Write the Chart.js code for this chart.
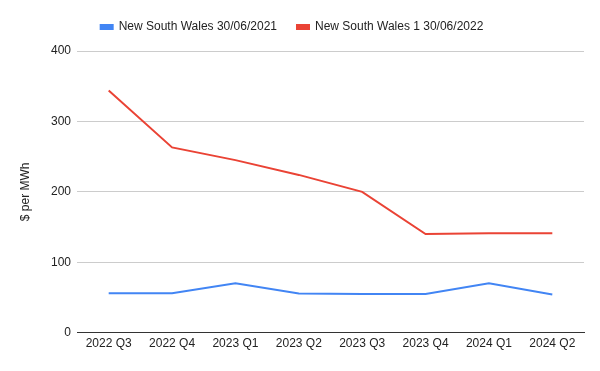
<!DOCTYPE html>
<html>
<head>
<meta charset="utf-8">
<script src="https://cdn.jsdelivr.net/npm/chart.js@4"></script>
<style>
  html, body { margin: 0; padding: 0; background: #fff; }
  #wrap { width: 600px; height: 371px; }
</style>
</head>
<body>
<div id="wrap"><canvas id="chart"></canvas></div>
<script>
// quarters along the x axis
var quarters = ['2022 Q3', '2022 Q4', '2023 Q1', '2023 Q2', '2023 Q3', '2023 Q4', '2024 Q1', '2024 Q2'];

// $ per MWh
var nsw2021 = [56, 56, 70, 55.5, 55, 55, 70, 54];
var nsw2022 = [344, 263, 245, 224, 200, 140, 141, 141];

var yTicks = [0, 100, 200, 300, 400];

Chart.defaults.font.family = 'Arial, "Liberation Sans", sans-serif';
Chart.defaults.font.size = 12;
Chart.defaults.color = '#222';

var ctx = document.getElementById('chart').getContext('2d');

var data = {
  labels: quarters,
  datasets: [{
    label: 'New South Wales 30/06/2021',
    data: nsw2021,
    borderColor: '#4285F4',
    backgroundColor: '#4285F4',
    borderWidth: 2,
    pointRadius: 0,
    tension: 0
  }, {
    label: 'New South Wales 1 30/06/2022',
    data: nsw2022,
    borderColor: '#EA4335',
    backgroundColor: '#EA4335',
    borderWidth: 2,
    pointRadius: 0,
    tension: 0
  }]
};

// a bit more room under the legend
var legendGap = {
  id: 'legendGap',
  beforeInit: function (chart) {
    var fit = chart.legend.fit;
    chart.legend.fit = function () {
      fit.bind(chart.legend)();
      this.height += 8;
    };
  }
};

var options = {
  responsive: true,
  maintainAspectRatio: false,
  animation: false,
  layout: {
    padding: { top: 1, right: 16, bottom: 16, left: 0 }
  },
  plugins: {
    legend: {
      position: 'top',
      labels: {
        boxWidth: 12,
        boxHeight: 4,
        padding: 20
      }
    },
    tooltip: { enabled: false }
  },
  scales: {
    x: {
      offset: true,
      grid: { display: false, drawTicks: false },
      border: { display: true, color: '#333', width: 1 },
      ticks: { padding: 4, maxRotation: 0 }
    },
    y: {
      min: 0,
      max: 400,
      afterBuildTicks: function (scale) {
        scale.ticks = yTicks.map(function (v) { return { value: v }; });
      },
      afterFit: function (scale) { scale.width = 77; },
      grid: { color: '#ccc', drawTicks: false },
      border: { display: false },
      ticks: { padding: 6 },
      title: {
        display: true,
        text: '$ per MWh',
        padding: { top: 18, bottom: 0 }
      }
    }
  }
};

var myChart = new Chart(ctx, {
  type: 'line',
  data: data,
  options: options,
  plugins: [legendGap]
});
</script>
</body>
</html>
